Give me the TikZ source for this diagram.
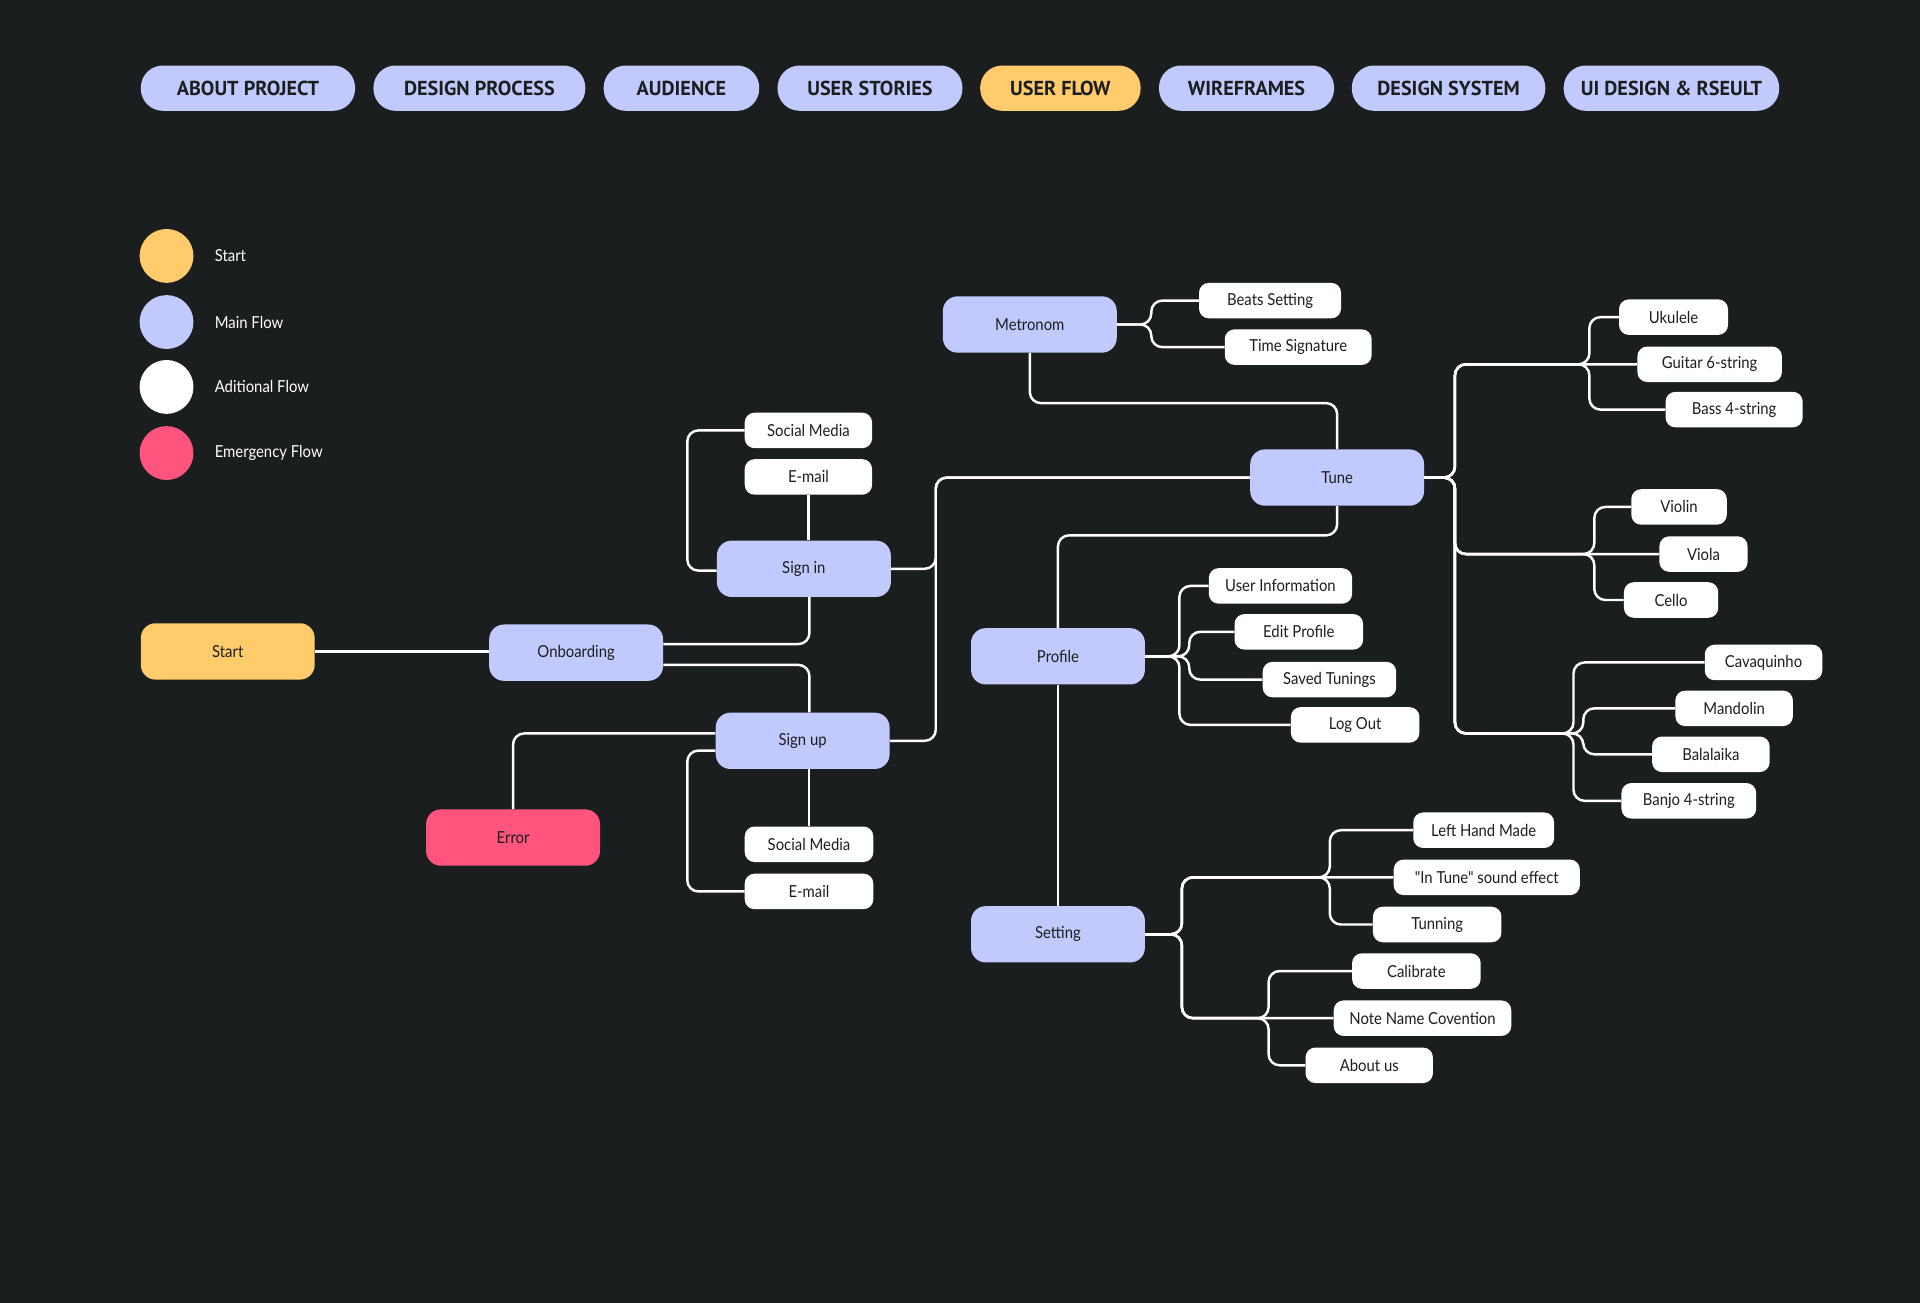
\documentclass[tikz,border=0pt]{standalone}
\usepackage{fontspec}
\setmainfont{Lato}[FakeStretch=0.9]
\newfontfamily\quotefont{Lato}[FakeStretch=0.9]
\newfontfamily\tabfont{PT Sans}
\usetikzlibrary{positioning}

\definecolor{bgdark}{HTML}{1B1E1F}
\definecolor{flowmain}{HTML}{C2C9FC}
\definecolor{flowstart}{HTML}{FFCB6B}
\definecolor{flowerror}{HTML}{FF547E}
\definecolor{inkdark}{HTML}{1B1E1F}

\tikzset{
  boxfont/.style={font=\fontsize{13.5}{16}\selectfont},
  mainbox/.style={boxfont, rounded corners=12pt, fill=flowmain, text=inkdark,
    minimum width=142pt, minimum height=46pt, inner sep=0pt},
  subbox/.style={boxfont, rounded corners=8pt, fill=white, text=inkdark,
    minimum height=29pt, inner sep=0pt, anchor=west},
  tab/.style={rounded corners=18pt, text=inkdark, minimum height=37pt, inner sep=0pt,
    font=\tabfont\bfseries\fontsize{16.5}{18}\selectfont},
  link/.style={draw=white, line width=2pt, rounded corners=9pt},
  legenddot/.style={circle, minimum size=44pt, inner sep=0pt},
  legendtext/.style={boxfont, text=white, inner sep=0pt, anchor=west}
}

\begin{document}
\begin{tikzpicture}[x=1pt, y=-1pt]
    \fill[bgdark] (0,0) rectangle (1568,1064);
    \useasboundingbox (0,0) rectangle (1568,1064);

    % Reiter
    \foreach \cx/\w/\col/\label [count=\i] in {202.5/175/flowmain/ABOUT PROJECT,
        391.5/173/flowmain/DESIGN PROCESS, 556.5/127/flowmain/AUDIENCE,
        710.5/151/flowmain/USER STORIES, 866/131/flowstart/USER FLOW,
        1018/143/flowmain/WIREFRAMES, 1183/158/flowmain/DESIGN SYSTEM,
        1365/176/flowmain/UI DESIGN \& RSEULT}
    {
        \node[tab, fill=\col, minimum width=\w pt] (tab\i) at (\cx,72) {\label};
    }

    % Legende
    \foreach \y/\col/\label [count=\i] in {209/flowstart/Start, 263/flowmain/Main Flow,
        316/white/Aditional Flow, 370/flowerror/Emergency Flow}
    {
        \node[legenddot, fill=\col] (dot\i) at (136,\y) {};
        \node[legendtext, right=17pt of dot\i] (key\i) {\label};
    }

    % Hauptfluss
    \node[mainbox, fill=flowstart] (start) at (186,532) {Start};
    \node[mainbox] (onboard) at (470.5,533) {Onboarding};
    \node[mainbox] (signin) at (656.5,464.5) {Sign in};
    \node[mainbox] (signup) at (655.5,605) {Sign up};
    \node[mainbox, fill=flowerror] (error) at (419,684) {Error};
    \node[mainbox] (metronom) at (841,265) {Metronom};
    \node[mainbox] (tune) at (1092,390) {Tune};
    \node[mainbox] (profile) at (864,536) {Profile};
    \node[mainbox] (setting) at (864,763) {Setting};

    % Nebenfluss
    \node[subbox, minimum width=104pt] (sinsm) at (608,351.5) {Social Media};
    \node[subbox, minimum width=104pt] (sinem) at (608,389.5) {E-mail};
    \node[subbox, minimum width=105pt] (supsm) at (608,689.5) {Social Media};
    \node[subbox, minimum width=105pt] (supem) at (608,728) {E-mail};
    \node[subbox, minimum width=116pt] (beats) at (979,245.5) {Beats Setting};
    \node[subbox, minimum width=120pt] (timesig) at (1000,283.5) {Time Signature};
    \node[subbox, minimum width=89pt] (ukulele) at (1322,259) {Ukulele};
    \node[subbox, minimum width=118pt] (guitar) at (1337,297.5) {Guitar 6-string};
    \node[subbox, minimum width=112pt] (bass) at (1360,334.5) {Bass 4-string};
    \node[subbox, minimum width=78pt] (violin) at (1332,414) {Violin};
    \node[subbox, minimum width=72pt] (viola) at (1355,452.5) {Viola};
    \node[subbox, minimum width=77pt] (cello) at (1326,490) {Cello};
    \node[subbox, minimum width=96pt] (cavaq) at (1392,541) {Cavaquinho};
    \node[subbox, minimum width=96pt] (mandolin) at (1368,578.5) {Mandolin};
    \node[subbox, minimum width=96pt] (balalaika) at (1349,616) {Balalaika};
    \node[subbox, minimum width=110pt] (banjo) at (1324,654) {Banjo 4-string};
    \node[subbox, minimum width=117pt] (userinfo) at (987,478.5) {User Information};
    \node[subbox, minimum width=105pt] (editprof) at (1008,516) {Edit Profile};
    \node[subbox, minimum width=109pt] (savedtun) at (1031,555) {Saved Tunings};
    \node[subbox, minimum width=105pt] (logout) at (1054,592) {Log Out};
    \node[subbox, minimum width=115pt] (lefthand) at (1154,678) {Left Hand Made};
    \node[subbox, minimum width=152pt] (intune) at (1138,716.5) {\quotefont "In Tune" sound effect};
    \node[subbox, minimum width=105pt] (tunning) at (1121,755) {Tunning};
    \node[subbox, minimum width=105pt] (calibrate) at (1104,793) {Calibrate};
    \node[subbox, minimum width=145pt] (notename) at (1089,831.5) {Note Name Covention};
    \node[subbox, minimum width=104pt] (aboutus) at (1066,870) {About us};

    % Verbindungen
    \draw[link] (start.east) -- (start.east -| onboard.west);
    \draw[link] ([yshift=7pt]onboard.east) -| ([xshift=4.5pt]signin.south);
    \draw[link] ([yshift=-10pt]onboard.east) -| ([xshift=5.5pt]signup.north);
    \draw[link] (signin.east) -- ++(36.5,0) |- (tune.west);
    \draw[link] (signup.east) -- ++(37.5,0) |- (tune.west);
    \draw[link] ([yshift=-1.5pt]signin.west) -- ++(-24,0) |- (sinsm.west);
    \draw[link] (sinem.south) -- (sinem.south |- signin.north);
    \draw[link] ([yshift=6pt]signup.west) -| (error.north);
    \draw[link] ([yshift=-8pt]signup.west) -- ++(-23,0) |- (supem.west);
    \draw[link] (supsm.north |- signup.south) -- (supsm.north);
    \draw[link] (metronom.south) -- ++(0,41) -| (tune.north);
    \draw[link] (tune.south) -- ++(0,24) -| (profile.north);
    \draw[link] (profile.south) -- (setting.north);

    \foreach \child in {beats, timesig}
        \draw[link] (metronom.east) -- ++(28,0) |- (\child.west);

    \foreach \child/\bx/\by in {ukulele/1298/297.5, bass/1298/297.5, violin/1302/452.5,
        cello/1302/452.5, cavaq/1285/599, mandolin/1293/599, balalaika/1293/599, banjo/1285/599}
        \draw[link] (tune.east) -- ++(25,0) |- (\bx,\by) |- (\child.west);
    \foreach \child in {guitar, viola}
        \draw[link] (tune.east) -- ++(25,0) |- (\child.west);

    \foreach \child/\dx in {userinfo/28, editprof/36, savedtun/36, logout/28}
        \draw[link] (profile.east) -- ++(\dx,0) |- (\child.west);

    \foreach \child/\bx/\by in {lefthand/1086/716.5, tunning/1086/716.5,
        calibrate/1036/831.5, aboutus/1036/831.5}
        \draw[link] (setting.east) -- ++(30,0) |- (\bx,\by) |- (\child.west);
    \foreach \child in {intune, notename}
        \draw[link] (setting.east) -- ++(30,0) |- (\child.west);
\end{tikzpicture}
\end{document}
